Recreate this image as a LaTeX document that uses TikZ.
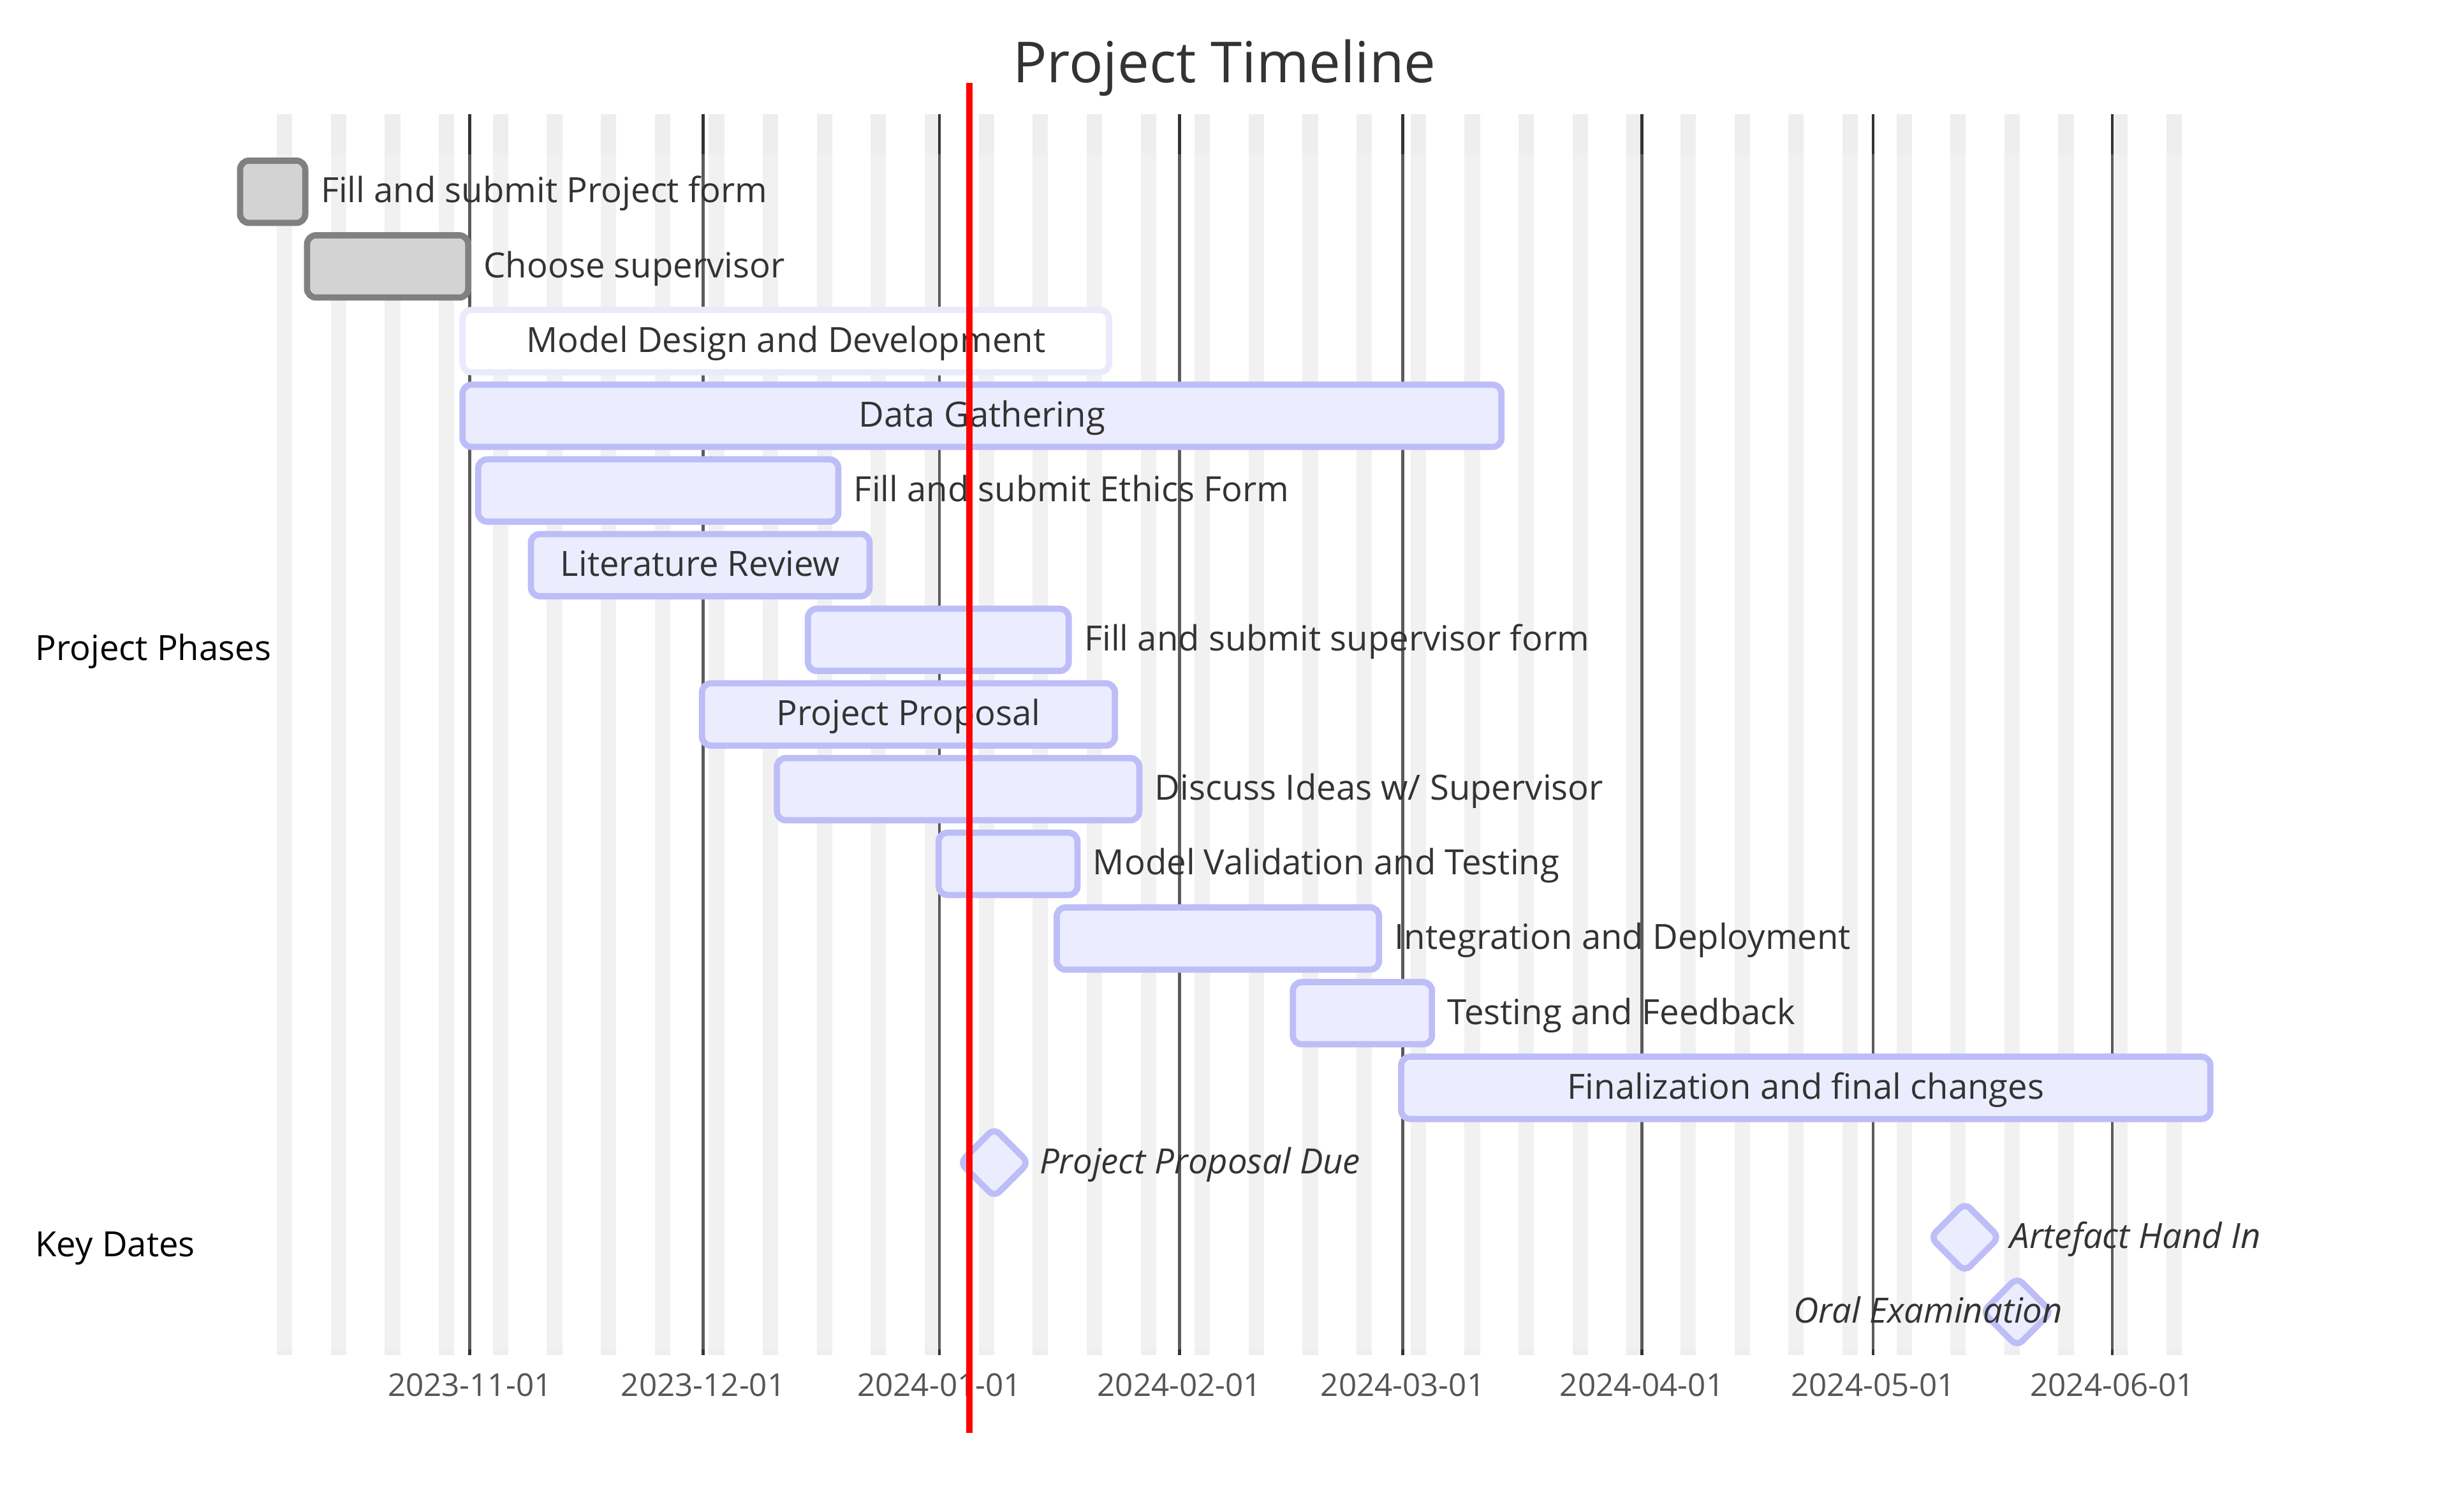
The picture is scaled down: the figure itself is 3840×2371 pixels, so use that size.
\documentclass[tikz,border=0pt]{standalone}
\usepackage{fontspec}
\setmainfont{Open Sans}
\definecolor{taskfill}{HTML}{ECECFF}
\definecolor{taskline}{HTML}{BDBDF8}
\definecolor{activeline}{HTML}{EAEAFC}
\definecolor{donefill}{HTML}{D3D3D3}
\definecolor{doneline}{HTML}{808080}
\definecolor{txt}{HTML}{333333}
\definecolor{ticktxt}{HTML}{555555}
\definecolor{stripecol}{HTML}{EEEEEE}
\definecolor{gridcol}{HTML}{333333}
\newcommand\lblfont{\fontsize{10.9pt}{12pt}\selectfont}
\newcommand\tickfont{\fontsize{9.86pt}{11pt}\selectfont}
\newcommand\titlefont{\fontsize{17.75pt}{20pt}\selectfont}
\tikzset{
  barbase/.style={rectangle, rounded corners=2.8pt, line width=1.95pt, minimum height=19.52pt, inner sep=0pt, outer sep=0pt},
  taskbox/.style={barbase, draw=taskline, fill=taskfill},
  activebox/.style={barbase, draw=activeline, fill=white},
  donebox/.style={barbase, draw=doneline, fill=donefill},
  milebox/.style={rectangle, rotate=45, rounded corners=2.3pt, line width=1.95pt, minimum width=15.2pt, minimum height=15.2pt, inner sep=0pt, outer sep=0pt, draw=taskline, fill=taskfill},
  tasklabel/.style={inner sep=0pt, outer sep=0pt, text=txt, font=\lblfont},
  milelabel/.style={inner sep=0pt, outer sep=0pt, text=txt, font=\lblfont\itshape},
  sectlabel/.style={inner sep=0pt, outer sep=0pt, text=black, font=\lblfont, anchor=base west},
  ticklabel/.style={inner sep=0pt, outer sep=0pt, text=ticktxt, font=\tickfont, anchor=base},
  stripe/.style={fill=stripecol},
  monthline/.style={draw=gridcol, line width=0.95pt},
  todayline/.style={draw=red, line width=2pt},
}
% name, style, outer left, outer right, row
\newcommand\ganttbar[5]{%
  \pgfmathsetmacro\gbx{(#3+#4)/2}%
  \pgfmathsetmacro\gbw{(#4-#3-9.76)*0.2}%
  \pgfmathsetmacro\gby{300.7+117.1*(#5-1)}%
  \node[#2, minimum width=\gbw pt] (#1) at (\gbx,\gby) {};%
}
\newcommand\inlabel[2]{\node[tasklabel, anchor=base] (#1-l) at ([yshift=-3.44pt]#1.center) {#2};}
\newcommand\outlabel[2]{\node[tasklabel, anchor=base west] (#1-l) at ([xshift=4.88pt,yshift=-3.44pt]#1.east) {#2};}
\begin{document}
\begin{tikzpicture}[x=0.2pt,y=-0.2pt]
\useasboundingbox (0,0) rectangle (3840,2371);
\fill[white] (0,0) rectangle (3840,2371);
% weekend stripes
\foreach \k in {0,...,35}{
  \pgfmathsetmacro\xa{736.5+12.092*(-25+7*\k)}
  \fill[stripe] (\xa,179) rectangle (\xa+24.18,2125);
}
% month grid lines
\foreach \x in {736.7,1102.6,1473,1849.2,2199.5,2574.5,2937,3312}{
  \draw[monthline] (\x,179) -- (\x,2125);
}
% section background veil
\fill[white, opacity=0.2] (0,242.2) rectangle (3840,2115.7);
% title
\node[inner sep=0pt, text=txt, font=\titlefont, anchor=base] (title) at (1920,130) {Project Timeline};
% section labels
\node[sectlabel] (sec1) at (55.5,1035.6) {Project Phases};
\node[sectlabel] (sec2) at (55.5,1970.7) {Key Dates};
% tasks
\ganttbar{t1}{donebox}{371.6}{483.5}{1}
\ganttbar{t2}{donebox}{476.6}{739}{2}
\ganttbar{t3}{activebox}{720.4}{1743.9}{3}
\ganttbar{t4}{taskbox}{720.4}{2359.2}{4}
\ganttbar{t5}{taskbox}{744.9}{1319.4}{5}
\ganttbar{t6}{taskbox}{827.6}{1368.4}{6}
\ganttbar{t7}{taskbox}{1261.9}{1680.6}{7}
\ganttbar{t8}{taskbox}{1095.9}{1753.1}{8}
\ganttbar{t9}{taskbox}{1213.3}{1791.3}{9}
\ganttbar{t10}{taskbox}{1466.8}{1694.4}{10}
\ganttbar{t11}{taskbox}{1652}{2167.2}{11}
\ganttbar{t12}{taskbox}{2022.3}{2250.2}{12}
\ganttbar{t13}{taskbox}{2192.1}{3470.7}{13}
\outlabel{t1}{Fill and submit Project form}
\outlabel{t2}{Choose supervisor}
\inlabel{t3}{Model Design and Development}
\inlabel{t4}{Data Gathering}
\outlabel{t5}{Fill and submit Ethics Form}
\inlabel{t6}{Literature Review}
\outlabel{t7}{Fill and submit supervisor form}
\inlabel{t8}{Project Proposal}
\outlabel{t9}{Discuss Ideas w/ Supervisor}
\outlabel{t10}{Model Validation and Testing}
\outlabel{t11}{Integration and Deployment}
\outlabel{t12}{Testing and Feedback}
\inlabel{t13}{Finalization and final changes}
% milestones
\node[milebox] (m1) at (1559,1823.1) {};
\node[milebox] (m2) at (3080.8,1940.2) {};
\node[milebox] (m3) at (3162.7,2057.3) {};
\node[milelabel, anchor=base west] (m1-l) at (1630,1840.3) {Project Proposal Due};
\node[milelabel, anchor=base west] (m2-l) at (3151.8,1957.4) {Artefact Hand In};
\node[milelabel, anchor=base east] (m3-l) at (3234,2074.5) {Oral Examination};
% axis tick labels
\node[ticklabel] (x1) at (736.7,2189.3) {2023-11-01};
\node[ticklabel] (x2) at (1102.6,2189.3) {2023-12-01};
\node[ticklabel] (x3) at (1473,2189.3) {2024-01-01};
\node[ticklabel] (x4) at (1849.2,2189.3) {2024-02-01};
\node[ticklabel] (x5) at (2199.5,2189.3) {2024-03-01};
\node[ticklabel] (x6) at (2574.5,2189.3) {2024-04-01};
\node[ticklabel] (x7) at (2937,2189.3) {2024-05-01};
\node[ticklabel] (x8) at (3312,2189.3) {2024-06-01};
% today marker
\coordinate (todaytop) at (1519.6,130);
\coordinate (todaybot) at (1519.6,2246.7);
\draw[todayline] (todaytop) -- (todaybot);
\end{tikzpicture}
\end{document}
